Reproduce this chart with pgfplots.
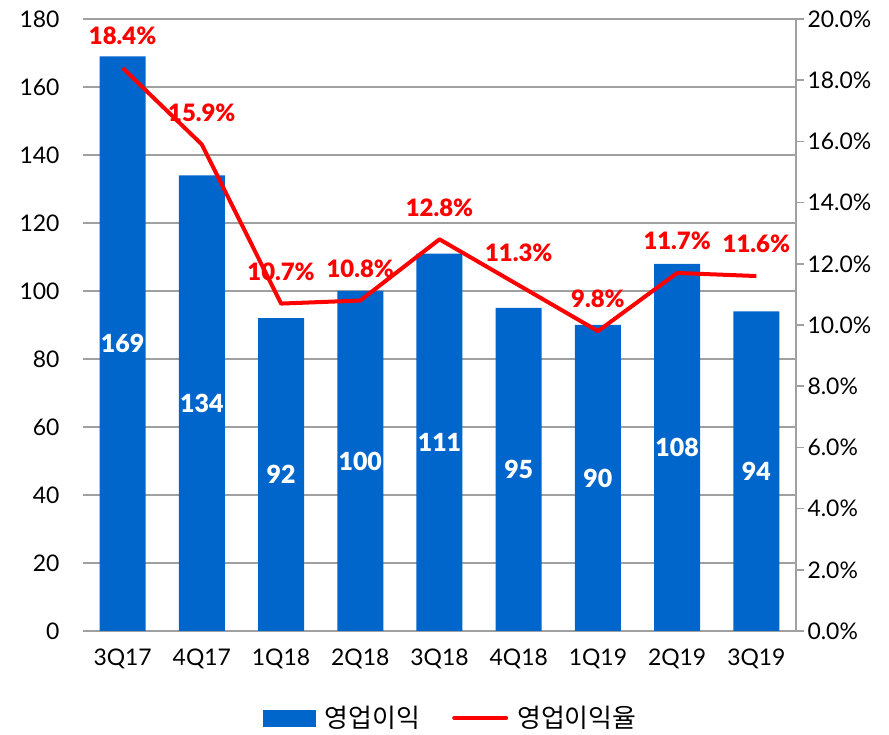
\documentclass[border=0pt]{standalone}
\usepackage{pgfplots}
\pgfplotsset{compat=1.18}
\usepackage{pgfplotstable}
\usepackage{fontspec}
\setmainfont{Lato}
\newfontfamily\heavy{Lato Black}
\newfontfamily\kr{Noto Sans CJK KR}
\definecolor{barblue}{HTML}{0066CC}
\definecolor{gridgray}{HTML}{A0A0A0}
\pgfplotstableread{
x v p
0 169 18.4
1 134 15.9
2 92 10.7
3 100 10.8
4 111 12.8
5 95 11.3
6 90 9.8
7 108 11.7
8 94 11.6
}\data
\begin{document}
\begin{tikzpicture}
\begin{axis}[
  at={(0,0)}, anchor=south west, scale only axis,
  width=713bp, height=612bp,
  xmin=-0.5, xmax=8.5, ymin=0, ymax=180,
  ytick={0,20,...,180},
  xtick={0,...,8},
  xticklabels={3Q17,4Q17,1Q18,2Q18,3Q18,4Q18,1Q19,2Q19,3Q19},
  axis x line*=bottom, axis y line*=left,
  y axis line style={draw=none},
  x axis line style={draw=gridgray, line width=1.5bp, -},
  major tick length=0pt,
  ymajorgrids, grid style={draw=gridgray, line width=1.5bp},
  /pgf/number format/assume math mode=true,
  tick label style={font=\fontsize{23}{26}\selectfont},
  yticklabel style={xshift=-20bp},
  xticklabel style={yshift=-14bp},
  clip=false,
]
\addplot[ybar, bar width=46bp, fill=barblue, draw=none,
  visualization depends on={\thisrow{v}*1.7 \as \hs},
  nodes near coords,
  every node near coord/.append style={anchor=center, yshift=-\hs bp, text=white,
     font=\heavy\fontsize{25}{28}\selectfont},
] table[x=x, y=v] {\data};
\end{axis}
\begin{axis}[
  at={(0,0)}, anchor=south west, scale only axis,
  width=713bp, height=612bp,
  xmin=-0.5, xmax=8.5, ymin=0, ymax=20,
  ytick={0,2,...,20},
  axis x line=none, axis y line*=right,
  y axis line style={draw=gridgray, line width=1.5bp, -},
  tick style={draw=gridgray, line width=1.5bp},
  tick align=outside, major tick length=8bp,
  /pgf/number format/assume math mode=true,
  yticklabel={\pgfmathprintnumber[fixed,fixed zerofill,precision=1]{\tick}\%},
  tick label style={font=\fontsize{23}{26}\selectfont},
  clip=false,
  legend style={at={(0.516,-0.142)}, anchor=center, draw=none, fill=none,
    legend columns=2, font=\kr\fontsize{26}{28}\selectfont,
    /tikz/every odd column/.append style={column sep=7bp},
    /tikz/every even column/.append style={column sep=30bp}},
]
\addlegendimage{legend image code/.code={\fill[barblue] (0bp,-8bp) rectangle (52bp,8bp);}}
\addlegendentry{영업이익}
\addplot[red, line width=4bp, line join=round, mark=none,
  point meta=explicit,
  nodes near coords={\pgfmathprintnumber[fixed,fixed zerofill,precision=1]{\pgfplotspointmeta}\%},
  every node near coord/.append style={anchor=center, yshift=32bp, text=red,
     font=\heavy\fontsize{24}{27}\selectfont},
  legend image code/.code={\draw[red,line width=4bp,line cap=round] (0bp,0bp) -- (52bp,0bp);},
] table[x=x, y=p, meta=p] {\data};
\addlegendentry{영업이익율}
\end{axis}
\pgfresetboundingbox
\path (-83bp,-104bp) rectangle (806bp,631bp);
\end{tikzpicture}
\end{document}
